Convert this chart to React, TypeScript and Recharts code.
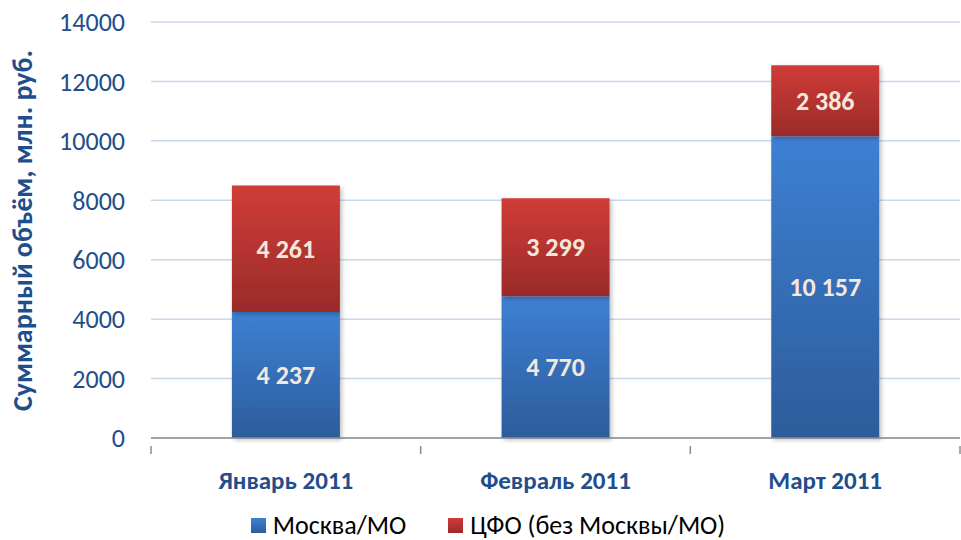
import React from "react";
import {
  BarChart,
  Bar,
  XAxis,
  YAxis,
  CartesianGrid,
  Legend,
  LabelList,
} from "recharts";

const months = ["Январь 2011", "Февраль 2011", "Март 2011"];
const moscow = [4237, 4770, 10157];
const cfo = [4261, 3299, 2386];
const yTicks = [0, 2000, 4000, 6000, 8000, 10000, 12000, 14000];

const seriesNames = ["Москва/МО", "ЦФО (без Москвы/МО)"];

const data = months.map((m, i) => ({
  month: m,
  moscow: moscow[i],
  cfo: cfo[i],
}));

const FONT = "Carlito, Lato, 'Liberation Sans', sans-serif";
const AXIS_BLUE = "#1f4e8c";
const AXIS_GRAY = "#8c8c8c";

const fmt = (v: unknown) =>
  String(v).replace(/\B(?=(\d{3})+(?!\d))/g, " ");

// category label plus the boundary tick marks between categories
function MonthTick(props: any) {
  const { x, y, payload, index, visibleTicksCount } = props;
  const half = payload.offset || 0;
  const left = payload.coordinate - half;
  const right = payload.coordinate + half;
  return (
    <g>
      <line x1={left} x2={left} y1={y} y2={y + 8} stroke={AXIS_GRAY} strokeWidth={1.5} />
      {index === visibleTicksCount - 1 && (
        <line x1={right} x2={right} y1={y} y2={y + 8} stroke={AXIS_GRAY} strokeWidth={1.5} />
      )}
      <text
        x={x}
        y={y + 43}
        textAnchor="middle"
        fill={AXIS_BLUE}
        fontSize={25}
        fontWeight={700}
        fontFamily={FONT}
      >
        {payload.value}
      </text>
    </g>
  );
}

function LegendContent() {
  const items = [
    { name: seriesNames[0], top: "#3d80d3", bottom: "#2d5c9b" },
    { name: seriesNames[1], top: "#d03c37", bottom: "#9a2b29" },
  ];
  return (
    <div
      style={{
        display: "flex",
        justifyContent: "center",
        gap: 42,
        fontFamily: FONT,
        fontSize: 26,
        lineHeight: "30px",
        color: "#000",
        paddingTop: 4,
        paddingLeft: 16,
      }}
    >
      {items.map((it) => (
        <div key={it.name} style={{ display: "flex", alignItems: "center" }}>
          <span
            style={{
              display: "inline-block",
              width: 15,
              height: 15,
              marginRight: 7,
              background: `linear-gradient(${it.top}, ${it.bottom})`,
            }}
          />
          {it.name}
        </div>
      ))}
    </div>
  );
}

export default function App() {
  return (
    <div style={{ position: "absolute", left: 0, top: 0, width: 961, height: 540, background: "#fff" }}>
      <BarChart
        width={961}
        height={540}
        data={data}
        margin={{ top: 22, right: 1, left: 0, bottom: 0 }}
        barCategoryGap="30%"
        style={{ fontFamily: FONT }}
      >
        <defs>
          <linearGradient id="gBlue" x1="0" y1="0" x2="0" y2="1">
            <stop offset="0%" stopColor="#3d80d3" />
            <stop offset="100%" stopColor="#2d5c9b" />
          </linearGradient>
          <linearGradient id="gRed" x1="0" y1="0" x2="0" y2="1">
            <stop offset="0%" stopColor="#d03c37" />
            <stop offset="100%" stopColor="#9a2b29" />
          </linearGradient>
          <filter id="barShadow" x="-10%" y="-10%" width="130%" height="130%">
            <feDropShadow dx="2" dy="2" stdDeviation="2" floodColor="#000" floodOpacity="0.25" />
          </filter>
        </defs>
        <CartesianGrid vertical={false} stroke="#c8d8ee" strokeWidth={1.5} />
        <XAxis
          dataKey="month"
          axisLine={{ stroke: AXIS_GRAY, strokeWidth: 1.5 }}
          tickLine={false}
          height={68}
          tick={<MonthTick />}
        />
        <YAxis
          width={151}
          domain={[0, 14000]}
          ticks={yTicks}
          axisLine={false}
          tickLine={false}
          tickMargin={20}
          tick={{ fontSize: 26, fill: AXIS_BLUE }}
          label={{
            value: "Суммарный объём, млн. руб.",
            angle: -90,
            position: "insideLeft",
            dx: 17,
            dy: 181,
            style: { fontSize: 28, fontWeight: 700, fill: AXIS_BLUE },
          }}
        />
        <Legend verticalAlign="bottom" content={<LegendContent />} />
        <Bar dataKey="moscow" name={seriesNames[0]} stackId="a" fill="url(#gBlue)" filter="url(#barShadow)" isAnimationActive={false}>
          <LabelList dataKey="moscow" position="center" formatter={fmt} fill="#f4e8dc" fontSize={26} fontWeight={700} />
        </Bar>
        <Bar dataKey="cfo" name={seriesNames[1]} stackId="a" fill="url(#gRed)" filter="url(#barShadow)" isAnimationActive={false}>
          <LabelList dataKey="cfo" position="center" formatter={fmt} fill="#f4e8dc" fontSize={26} fontWeight={700} />
        </Bar>
      </BarChart>
    </div>
  );
}
